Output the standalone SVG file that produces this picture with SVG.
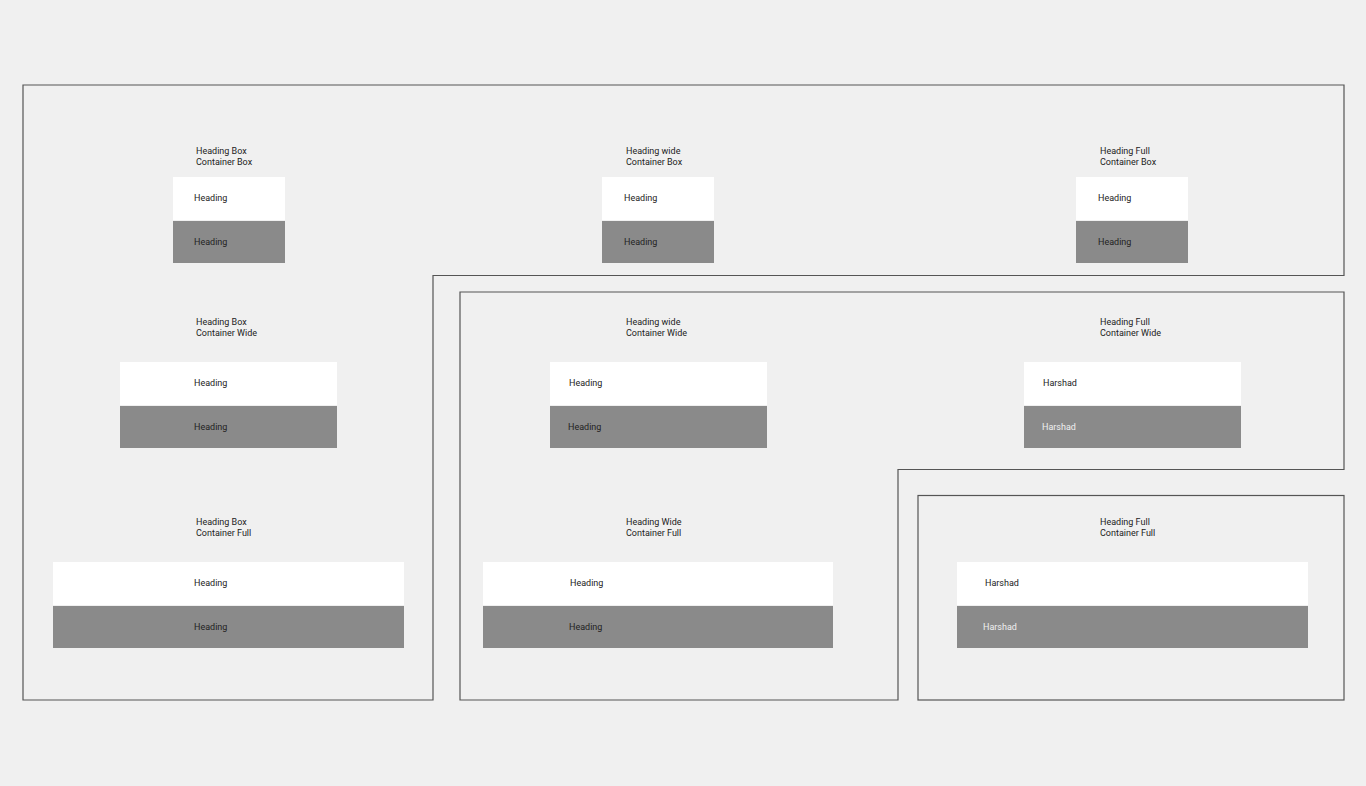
<svg xmlns="http://www.w3.org/2000/svg" width="1366" height="786" viewBox="0 0 1366 786">
<style>
  .frame { fill: none; stroke: #555; stroke-width: 1.2; }
  .top { fill: #ffffff; }
  .bot { fill: #8a8a8a; }
  text { font-family: Roboto, "Liberation Sans", sans-serif; font-size: 9px; fill: #222; }
  .light { fill: #f0f0f0; }
</style>
<rect x="0" y="0" width="1366" height="786" fill="#f0f0f0"/>
<g id="frames">
  <path class="frame" d="M23,85 H1344 V275.5 H433 V700 H23 Z"/>
  <path class="frame" d="M460,292 H1344 V469.5 H898 V700 H460 Z"/>
  <rect class="frame" x="918" y="495.5" width="426" height="204.5"/>
</g>
<g id="connectors"></g>

<g id="box-box">
  <text x="196" y="154">Heading Box</text>
  <text x="196" y="165">Container Box</text>
  <rect class="top" x="173" y="177" width="112" height="43"/>
  <rect class="bot" x="173" y="221" width="112" height="42"/>
  <text x="194" y="201">Heading</text>
  <text x="194" y="245">Heading</text>
</g>
<g id="wide-box">
  <text x="626" y="154">Heading wide</text>
  <text x="626" y="165">Container Box</text>
  <rect class="top" x="602" y="177" width="112" height="43"/>
  <rect class="bot" x="602" y="221" width="112" height="42"/>
  <text x="624" y="201">Heading</text>
  <text x="624" y="245">Heading</text>
</g>
<g id="full-box">
  <text x="1100" y="154">Heading Full</text>
  <text x="1100" y="165">Container Box</text>
  <rect class="top" x="1076" y="177" width="112" height="43"/>
  <rect class="bot" x="1076" y="221" width="112" height="42"/>
  <text x="1098" y="201">Heading</text>
  <text x="1098" y="245">Heading</text>
</g>

<g id="box-wide">
  <text x="196" y="325">Heading Box</text>
  <text x="196" y="336">Container Wide</text>
  <rect class="top" x="120" y="362" width="217" height="43"/>
  <rect class="bot" x="120" y="406" width="217" height="42"/>
  <text x="194" y="386">Heading</text>
  <text x="194" y="430">Heading</text>
</g>
<g id="wide-wide">
  <text x="626" y="325">Heading wide</text>
  <text x="626" y="336">Container Wide</text>
  <rect class="top" x="550" y="362" width="217" height="43"/>
  <rect class="bot" x="550" y="406" width="217" height="42"/>
  <text x="569" y="386">Heading</text>
  <text x="568" y="430">Heading</text>
</g>
<g id="full-wide">
  <text x="1100" y="325">Heading Full</text>
  <text x="1100" y="336">Container Wide</text>
  <rect class="top" x="1024" y="362" width="217" height="43"/>
  <rect class="bot" x="1024" y="406" width="217" height="42"/>
  <text x="1043" y="386">Harshad</text>
  <text class="light" x="1042" y="430">Harshad</text>
</g>

<g id="box-full">
  <text x="196" y="525">Heading Box</text>
  <text x="196" y="536">Container Full</text>
  <rect class="top" x="53" y="562" width="351" height="43"/>
  <rect class="bot" x="53" y="606" width="351" height="42"/>
  <text x="194" y="586">Heading</text>
  <text x="194" y="630">Heading</text>
</g>
<g id="wide-full">
  <text x="626" y="525">Heading Wide</text>
  <text x="626" y="536">Container Full</text>
  <rect class="top" x="483" y="562" width="350" height="43"/>
  <rect class="bot" x="483" y="606" width="350" height="42"/>
  <text x="570" y="586">Heading</text>
  <text x="569" y="630">Heading</text>
</g>
<g id="full-full">
  <text x="1100" y="525">Heading Full</text>
  <text x="1100" y="536">Container Full</text>
  <rect class="top" x="957" y="562" width="351" height="43"/>
  <rect class="bot" x="957" y="606" width="351" height="42"/>
  <text x="985" y="586">Harshad</text>
  <text class="light" x="983" y="630">Harshad</text>
</g>
</svg>
